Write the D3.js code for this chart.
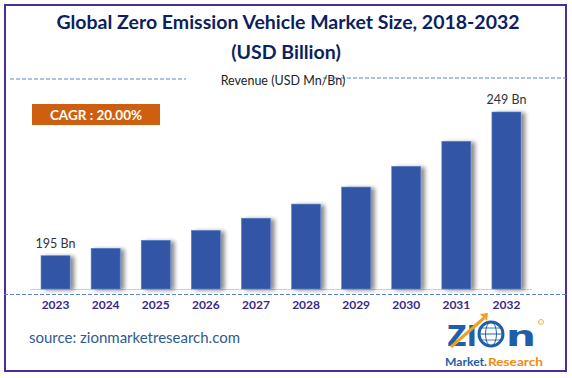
<!DOCTYPE html>
<html>
<head>
<meta charset="utf-8">
<script src="https://cdn.jsdelivr.net/npm/d3@7/dist/d3.min.js"></script>
<style>
html,body{margin:0;padding:0;background:#fff;}
svg{display:block;}
</style>
</head>
<body>
<script>
const years = ["2023","2024","2025","2026","2027","2028","2029","2030","2031","2032"];
const revenue = [195, 197.8, 200.8, 204.5, 209.1, 214.4, 220.8, 228.6, 238.0, 249];
const labeledIdx = [0, 9];
const labelText = ["195 Bn", "249 Bn"];
const titleLines = ["Global Zero Emission Vehicle Market Size, 2018-2032", "(USD Billion)"];
const cagrText = "CAGR : 20.00%";
const legendText = "Revenue (USD Mn/Bn)";
const sourceText = "source: zionmarketresearch.com";

const W = 572, H = 378;
const svg = d3.select("body").append("svg").attr("width", W).attr("height", H);

const defs = svg.append("defs");
const f = defs.append("filter").attr("id","sh").attr("x","-20%").attr("y","-10%").attr("width","160%").attr("height","130%");
f.append("feGaussianBlur").attr("in","SourceAlpha").attr("stdDeviation",2).attr("result","b");
f.append("feOffset").attr("in","b").attr("dx",4).attr("dy",1).attr("result","o");
f.append("feComponentTransfer").attr("in","o").attr("result","o2")
  .append("feFuncA").attr("type","linear").attr("slope",0.45);
const m = f.append("feMerge");
m.append("feMergeNode").attr("in","o2");
m.append("feMergeNode").attr("in","SourceGraphic");

// border
svg.append("rect").attr("x",5).attr("y",5).attr("width",561).attr("height",366)
  .attr("fill","#fff").attr("stroke","#4b2c9a").attr("stroke-width",2);

// title
const titleFont = "Lato, 'Open Sans', sans-serif";
svg.append("text").attr("x",288).attr("y",29).attr("text-anchor","middle")
  .attr("font-family",titleFont).attr("font-weight","bold").attr("font-size",19.5)
  .attr("fill","#0d1f5c").text(titleLines[0]);
svg.append("text").attr("x",286).attr("y",59).attr("text-anchor","middle")
  .attr("font-family",titleFont).attr("font-weight","bold").attr("font-size",19.5)
  .attr("fill","#0d1f5c").text(titleLines[1]);

// legend dashed lines
const dashCol = "#5b82d4";
svg.append("line").attr("x1",10).attr("x2",186).attr("y1",79).attr("y2",79)
  .attr("stroke",dashCol).attr("stroke-width",1.2).attr("stroke-dasharray","4,2");
svg.append("line").attr("x1",323).attr("x2",566).attr("y1",78).attr("y2",78)
  .attr("stroke",dashCol).attr("stroke-width",1.2).attr("stroke-dasharray","4,2");
svg.append("text").attr("x",283).attr("y",85).attr("text-anchor","middle")
  .attr("font-family",titleFont).attr("font-size",12.5).attr("fill","#222").text(legendText);

// CAGR box
svg.append("rect").attr("x",32).attr("y",104).attr("width",128).attr("height",21).attr("fill","#cf5f10");
svg.append("text").attr("x",96).attr("y",119.5).attr("text-anchor","middle")
  .attr("font-family",titleFont).attr("font-weight","bold").attr("font-size",13.5)
  .attr("fill","#fff").text(cagrText);

// scales
const x = d3.scaleBand().domain(years).range([30.5,531.5]).paddingInner(0.42).paddingOuter(0.21);
const y = d3.scaleLinear().domain([182.5, 249]).range([289, 112]);

// baseline
svg.append("line").attr("x1",30).attr("x2",532).attr("y1",289.5).attr("y2",289.5)
  .attr("stroke","#d0d0d0").attr("stroke-width",1.2);

// bars
svg.append("g").selectAll("rect").data(years).join("rect")
  .attr("x", d => x(d))
  .attr("y", (d,i) => y(revenue[i]))
  .attr("width", x.bandwidth())
  .attr("height", (d,i) => y(y.domain()[0]) - y(revenue[i]))
  .attr("fill","#3257a5")
  .attr("stroke","#5f80c8").attr("stroke-width",0.6)
  .attr("filter","url(#sh)");

// value labels
svg.append("g").selectAll("text").data(labeledIdx).join("text")
  .attr("x", (d) => x(years[d]) + x.bandwidth()/2)
  .attr("y", (d) => y(revenue[d]) - 8)
  .attr("text-anchor","middle")
  .attr("font-family",titleFont).attr("font-size",12.5).attr("fill","#333")
  .text((d,i) => labelText[i]);

// dashed axis line
svg.append("line").attr("x1",4).attr("x2",566).attr("y1",294.5).attr("y2",294.5)
  .attr("stroke",dashCol).attr("stroke-width",1.2).attr("stroke-dasharray","4,2");

// x axis
const xAxis = d3.axisBottom(x).tickSize(0).tickPadding(0);
const gx = svg.append("g").attr("transform","translate(0,298)").call(xAxis);
gx.select(".domain").remove();
gx.selectAll("text").attr("font-family",titleFont).attr("font-weight","bold")
  .attr("font-size",12).attr("fill","#3a2a8a").attr("dy","0.95em");

// source
svg.append("text").attr("x",29).attr("y",343)
  .attr("font-family",titleFont).attr("font-size",15).attr("fill","#2f5a90").text(sourceText);

// logo
const blue = "#1f5ea8", orange = "#f0a020";
const lg = svg.append("g");
const big = (t, x0, w) => lg.append("text").attr("x",x0).attr("y",346)
  .attr("font-family","'DejaVu Sans', sans-serif").attr("font-weight","bold").attr("font-size",29)
  .attr("fill",blue).attr("textLength",w).attr("lengthAdjust","spacingAndGlyphs").text(t);
big("ZI", 447, 30);
lg.append("path").attr("d","M451,347 L484,318").attr("stroke",orange).attr("stroke-width",3);
lg.append("path").attr("d","M480,314 L488,313 L487,321 Z").attr("fill",orange);
lg.append("circle").attr("cx",491).attr("cy",334).attr("r",12).attr("fill","#fff").attr("stroke",blue).attr("stroke-width",3);
lg.append("ellipse").attr("cx",491).attr("cy",334).attr("rx",5.5).attr("ry",12).attr("fill","none").attr("stroke",blue).attr("stroke-width",1);
lg.append("line").attr("x1",479).attr("x2",503).attr("y1",334).attr("y2",334).attr("stroke",blue).attr("stroke-width",1);
lg.append("line").attr("x1",481).attr("x2",501).attr("y1",328).attr("y2",328).attr("stroke",blue).attr("stroke-width",0.8);
lg.append("line").attr("x1",481).attr("x2",501).attr("y1",340).attr("y2",340).attr("stroke",blue).attr("stroke-width",0.8);
big("n", 506, 30);
lg.append("circle").attr("cx",541).attr("cy",322).attr("r",2.5).attr("fill","none").attr("stroke",orange).attr("stroke-width",0.8);
lg.append("text").attr("x",445).attr("y",366)
  .attr("font-family",titleFont).attr("font-weight","bold").attr("font-size",11.5)
  .attr("fill",blue).attr("textLength",42).attr("lengthAdjust","spacingAndGlyphs").text("Market.");
lg.append("text").attr("x",488).attr("y",366)
  .attr("font-family",titleFont).attr("font-weight","bold").attr("font-size",11.5)
  .attr("fill","#f08a10").attr("textLength",55).attr("lengthAdjust","spacingAndGlyphs").text("Research");
</script>
</body>
</html>
